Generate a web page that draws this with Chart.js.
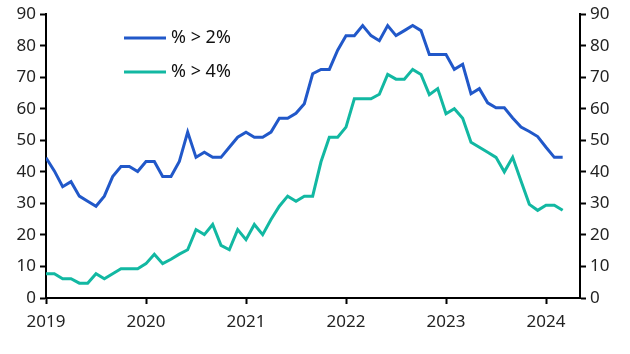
<!DOCTYPE html>
<html>
<head>
<meta charset="utf-8">
<script src="https://cdn.jsdelivr.net/npm/chart.js@4.4.1/dist/chart.umd.min.js"></script>
<style>
  html, body { margin: 0; padding: 0; background: #fff; }
  #wrap { width: 630px; height: 354px; }
</style>
</head>
<body>
<div id="wrap"><canvas id="js-chart-share"></canvas></div>
<script>
// Monthly data, Jan 2019 - Mar 2024
const startYear = 2019;
const over2 = [
  44.5, 40.3, 35.3, 36.9, 32.3, 30.7, 29.1, 32.3, 38.5, 41.7, 41.7, 40.1,
  43.3, 43.3, 38.5, 38.5, 43.3, 52.6, 44.6, 46.2, 44.6, 44.6, 47.8, 51.0,
  52.6, 51.0, 51.0, 52.6, 57.0, 57.0, 58.6, 61.6, 71.1, 72.5, 72.5, 78.6,
  83.2, 83.2, 86.4, 83.2, 81.6, 86.4, 83.2, 84.8, 86.4, 84.8, 77.2, 77.2,
  77.2, 72.5, 74.1, 64.8, 66.4, 61.9, 60.3, 60.3, 57.1, 54.2, 52.8, 51.2,
  47.8, 44.6, 44.6
];
const over4 = [
  7.7, 7.7, 6.1, 6.1, 4.7, 4.7, 7.7, 6.1, 7.7, 9.3, 9.3, 9.3,
  10.9, 13.9, 10.9, 12.3, 13.9, 15.3, 21.7, 20.1, 23.3, 16.7, 15.3, 21.7,
  18.5, 23.3, 20.1, 24.9, 29.1, 32.3, 30.7, 32.3, 32.3, 43.2, 51.0, 51.0,
  54.2, 63.2, 63.2, 63.2, 64.6, 70.9, 69.4, 69.4, 72.5, 70.9, 64.5, 66.4,
  58.4, 60.0, 57.0, 49.4, 47.8, 46.2, 44.6, 40.0, 44.6, 37.1, 29.7, 27.8,
  29.4, 29.4, 27.8
];
const yearTicks = [2019, 2020, 2021, 2022, 2023, 2024];
const yTicks = [0, 10, 20, 30, 40, 50, 60, 70, 80, 90];
const seriesNames = ['% > 2%', '% > 4%'];

const blue = '#2158c9';
const teal = '#12b8a2';
const fontFamily = '"Noto Sans", "Open Sans", sans-serif';

const toPoints = (arr) => arr.map((v, i) => ({ x: startYear + i / 12, y: v }));

// Legend drawn inside the plot, upper left
const innerLegend = {
  id: 'innerLegend',
  afterDraw(chart) {
    const ctx = chart.ctx;
    const colors = [blue, teal];
    ctx.save();
    ctx.font = '18px ' + fontFamily;
    ctx.textBaseline = 'middle';
    seriesNames.forEach((name, i) => {
      const y = 38 + i * 34;
      ctx.strokeStyle = colors[i];
      ctx.lineWidth = 3;
      ctx.beginPath();
      ctx.moveTo(124, y);
      ctx.lineTo(166, y);
      ctx.stroke();
      ctx.fillStyle = '#111';
      ctx.fillText(name, 171, y);
    });
    ctx.restore();
  }
};

const yAxis = (pos) => ({
  type: 'linear',
  position: pos,
  min: 0,
  max: 90,
  afterBuildTicks: (s) => { s.ticks = yTicks.map(v => ({ value: v })); },
  afterFit: (s) => { s.width = pos === 'left' ? 46 : 50; },
  border: { display: true, color: '#000', width: 2 },
  grid: { display: true, drawOnChartArea: false, drawTicks: true, tickLength: 6, tickColor: '#000', tickWidth: 2 },
  ticks: { color: '#222', font: { size: 17, family: fontFamily }, padding: 4 }
});

new Chart(document.getElementById('js-chart-share'), {
  type: 'line',
  data: {
    datasets: [
      { label: seriesNames[0], data: toPoints(over2), borderColor: blue, borderWidth: 3, yAxisID: 'y' },
      { label: seriesNames[1], data: toPoints(over4), borderColor: teal, borderWidth: 3, yAxisID: 'y' }
    ]
  },
  options: {
    responsive: true,
    maintainAspectRatio: false,
    animation: false,
    layout: { padding: { top: 10, left: 0, right: 0, bottom: 0 } },
    elements: { point: { radius: 0 }, line: { tension: 0, borderJoinStyle: 'miter' } },
    plugins: { legend: { display: false }, tooltip: { enabled: false } },
    scales: {
      x: {
        type: 'linear',
        min: 2019,
        max: 2024.34,
        afterBuildTicks: (s) => { s.ticks = yearTicks.map(v => ({ value: v })); },
        afterFit: (s) => { s.height = 56; },
        border: { display: true, color: '#000', width: 2 },
        grid: { display: true, drawOnChartArea: false, drawTicks: true, tickLength: 6, tickColor: '#000', tickWidth: 2 },
        ticks: { color: '#222', font: { size: 17, family: fontFamily }, padding: 8, maxRotation: 0, callback: (v) => String(v) }
      },
      y: yAxis('left'),
      y2: yAxis('right')
    }
  },
  plugins: [innerLegend]
});
</script>
</body>
</html>
